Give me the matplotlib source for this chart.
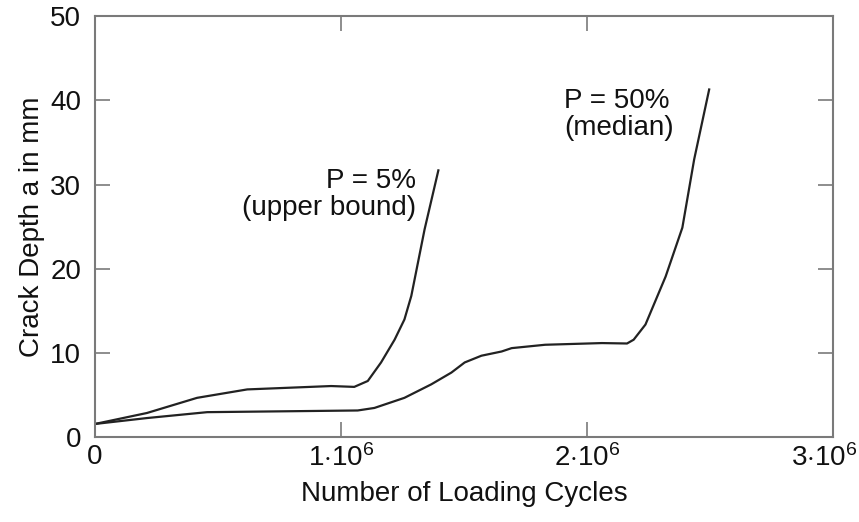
import matplotlib
matplotlib.use("Agg")
import matplotlib.pyplot as plt
from matplotlib.transforms import ScaledTranslation

plt.rcParams['font.family'] = ['Liberation Sans', 'DejaVu Sans']
plt.rcParams['mathtext.fontset'] = 'custom'
plt.rcParams['mathtext.rm'] = 'Liberation Sans'
plt.rcParams['mathtext.it'] = 'Liberation Sans'

# Data (cycles in units of 1e6, depth in mm)
upper_cycles = [0.0, 0.211, 0.415, 0.619, 0.96, 1.054, 1.109, 1.163, 1.218, 1.258, 1.286, 1.34, 1.396]
upper_depth = [1.6, 2.9, 4.7, 5.7, 6.1, 6.0, 6.7, 8.9, 11.6, 14.0, 16.8, 24.7, 31.7]

median_cycles = [0.0, 0.211, 0.456, 1.068, 1.136, 1.258, 1.367, 1.449, 1.503, 1.571, 1.653, 1.694,
                 1.83, 2.061, 2.163, 2.19, 2.238, 2.32, 2.388, 2.436, 2.497]
median_depth = [1.6, 2.3, 3.0, 3.2, 3.5, 4.7, 6.3, 7.7, 8.9, 9.7, 10.2, 10.6,
                11.0, 11.2, 11.15, 11.6, 13.4, 19.1, 24.9, 33.0, 41.3]

x_ticks = [0, 1, 2, 3]
x_tick_labels = ['0', r'$1{\cdot}10^6$', r'$2{\cdot}10^6$', r'$3{\cdot}10^6$']
y_ticks = [0, 10, 20, 30, 40, 50]

line_color = '#222222'
spine_color = '#7a7a7a'
text_color = '#111111'

fig = plt.figure(figsize=(8.59, 5.22), dpi=100)
ax = fig.add_axes([0.1106, 0.162, 0.859, 0.807])

ax.plot(upper_cycles, upper_depth, color=line_color, lw=1.6)
ax.plot(median_cycles, median_depth, color=line_color, lw=1.6)

ax.set_xlim(0, 3)
ax.set_ylim(0, 50)
ax.set_xticks(x_ticks)
ax.set_xticklabels(x_tick_labels)
ax.set_yticks(y_ticks)

for s in ax.spines.values():
    s.set_color(spine_color)
    s.set_linewidth(1.5)
ax.tick_params(direction='in', length=11, width=1.2, color=spine_color,
               top=True, right=True, labelsize=20, labelcolor=text_color)
ax.tick_params(axis='x', pad=5)
ax.tick_params(axis='y', pad=10)

# last x label runs up to the figure edge; shift it a little left so it fits
last = ax.get_xticklabels()[-1]
last.set_transform(last.get_transform() + ScaledTranslation(-9 / 100, 0, fig.dpi_scale_trans))

ax.set_xlabel('Number of Loading Cycles', fontsize=20, color=text_color, labelpad=6)
ax.set_ylabel('Crack Depth a in mm', fontsize=20, color=text_color, labelpad=4)

ax.text(1.306, 28.8, 'P = 5%\n(upper bound)', ha='right', va='center',
        multialignment='right', fontsize=20, color=text_color, linespacing=1.05)
ax.text(1.906, 38.3, 'P = 50%\n(median)', ha='left', va='center',
        multialignment='left', fontsize=20, color=text_color, linespacing=1.05)

fig.savefig('out.png', dpi=100)
